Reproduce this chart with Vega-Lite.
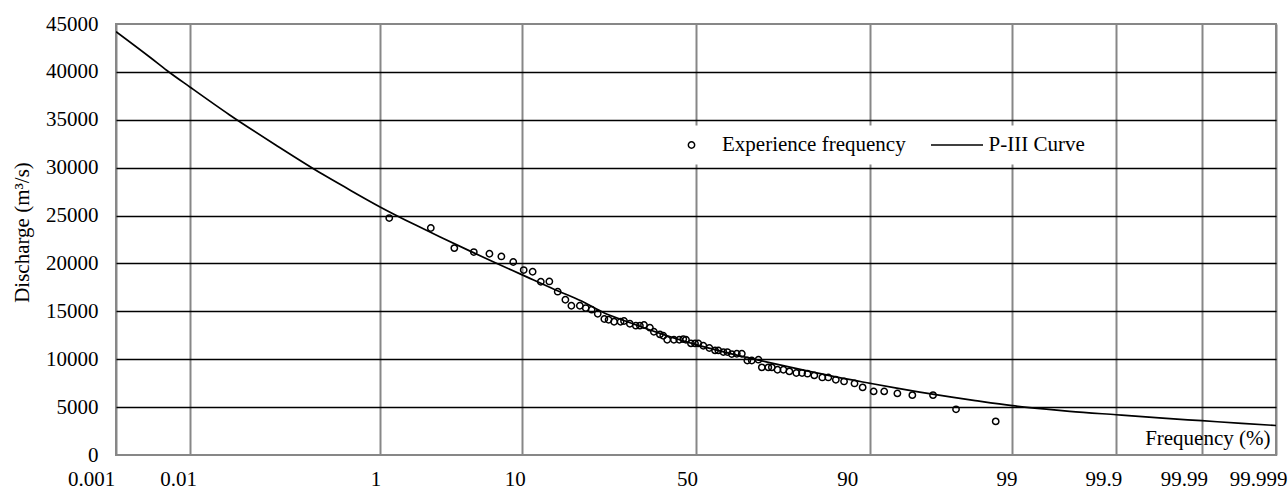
{
  "$schema": "https://vega.github.io/schema/vega-lite/v6.json",
  "width": 1160,
  "height": 431,
  "autosize": "none",
  "padding": {"left": 116, "top": 24, "right": 12, "bottom": 36},
  "background": "white",
  "config": {
    "font": "Liberation Serif",
    "view": {"stroke": "#878787", "strokeWidth": 2}
  },
  "datasets": {
    "obs": [
      {"p": 1.26, "q": 24740}, {"p": 2.60, "q": 23700}, {"p": 3.88, "q": 21600}, {"p": 5.13, "q": 21190},
      {"p": 6.49, "q": 21010}, {"p": 7.69, "q": 20730}, {"p": 9.04, "q": 20150}, {"p": 10.30, "q": 19310},
      {"p": 11.64, "q": 19130}, {"p": 12.87, "q": 18090}, {"p": 14.15, "q": 18120}, {"p": 15.51, "q": 17050},
      {"p": 16.96, "q": 16210}, {"p": 18.09, "q": 15580}, {"p": 19.69, "q": 15580}, {"p": 20.93, "q": 15340},
      {"p": 22.22, "q": 15170}, {"p": 23.56, "q": 14750}, {"p": 25.01, "q": 14200}, {"p": 26.05, "q": 14120},
      {"p": 27.40, "q": 13910}, {"p": 28.99, "q": 13910}, {"p": 29.83, "q": 13990}, {"p": 31.37, "q": 13700},
      {"p": 32.95, "q": 13500}, {"p": 34.02, "q": 13500}, {"p": 35.11, "q": 13570}, {"p": 36.76, "q": 13290},
      {"p": 37.87, "q": 12870}, {"p": 39.56, "q": 12590}, {"p": 40.50, "q": 12450}, {"p": 41.64, "q": 12030},
      {"p": 43.57, "q": 12030}, {"p": 45.11, "q": 12030}, {"p": 46.28, "q": 12100}, {"p": 47.07, "q": 12030},
      {"p": 48.53, "q": 11650}, {"p": 49.71, "q": 11650}, {"p": 50.67, "q": 11650}, {"p": 52.14, "q": 11410},
      {"p": 53.90, "q": 11170}, {"p": 55.56, "q": 10920}, {"p": 56.51, "q": 10920}, {"p": 57.95, "q": 10750},
      {"p": 59.10, "q": 10750}, {"p": 60.35, "q": 10540}, {"p": 61.76, "q": 10570}, {"p": 63.16, "q": 10570},
      {"p": 64.70, "q": 9870}, {"p": 65.89, "q": 9870}, {"p": 67.66, "q": 9950}, {"p": 68.55, "q": 9150},
      {"p": 70.25, "q": 9150}, {"p": 71.11, "q": 9150}, {"p": 72.50, "q": 8900}, {"p": 73.95, "q": 8900},
      {"p": 75.37, "q": 8730}, {"p": 76.89, "q": 8560}, {"p": 78.15, "q": 8560}, {"p": 79.34, "q": 8490},
      {"p": 80.72, "q": 8310}, {"p": 82.23, "q": 8100}, {"p": 83.36, "q": 8100}, {"p": 84.78, "q": 7860},
      {"p": 86.06, "q": 7680}, {"p": 87.63, "q": 7470}, {"p": 88.85, "q": 7060}, {"p": 90.38, "q": 6640},
      {"p": 91.58, "q": 6640}, {"p": 93.06, "q": 6430}, {"p": 94.36, "q": 6250}, {"p": 95.83, "q": 6250},
      {"p": 97.18, "q": 4770}, {"p": 98.55, "q": 3510}
    ],
    "curve": [
      {"p": 0.001, "q": 44200}, {"p": 0.003, "q": 41500}, {"p": 0.005, "q": 40150}, {"p": 0.01, "q": 38400},
      {"p": 0.03, "q": 35530}, {"p": 0.1, "q": 32370}, {"p": 0.3, "q": 29330}, {"p": 0.5, "q": 27920},
      {"p": 1, "q": 25930}, {"p": 2, "q": 23950}, {"p": 3, "q": 22760}, {"p": 5, "q": 21180},
      {"p": 7, "q": 20070}, {"p": 10, "q": 18830}, {"p": 15, "q": 17260}, {"p": 20, "q": 16070},
      {"p": 25, "q": 14830}, {"p": 30, "q": 14010}, {"p": 35, "q": 13290}, {"p": 40, "q": 12650},
      {"p": 45, "q": 12060}, {"p": 50, "q": 11530}, {"p": 55, "q": 11050}, {"p": 60, "q": 10590},
      {"p": 65, "q": 10140}, {"p": 70, "q": 9690}, {"p": 75, "q": 9220}, {"p": 80, "q": 8710},
      {"p": 85, "q": 8130}, {"p": 90, "q": 7480}, {"p": 93, "q": 6980}, {"p": 95, "q": 6570},
      {"p": 97, "q": 6040}, {"p": 98, "q": 5680}, {"p": 99, "q": 5150}, {"p": 99.5, "q": 4780},
      {"p": 99.7, "q": 4560}, {"p": 99.9, "q": 4200}, {"p": 99.97, "q": 3850}, {"p": 99.99, "q": 3580},
      {"p": 99.997, "q": 3300}, {"p": 99.999, "q": 3080}
    ]
  },
  "encoding": {
    "x": {
      "field": "p",
      "type": "quantitative",
      "scale": {
        "type": "linear",
        "zero": false,
        "nice": false,
        "domain": [0.001, 0.003, 0.005, 0.01, 0.03, 0.1, 0.3, 0.5, 1, 2, 3, 5, 7, 10, 15, 20, 25, 30, 35, 40, 45, 50, 55, 60, 65, 70, 75, 80, 85, 90, 93, 95, 97, 98, 99, 99.5, 99.7, 99.9, 99.97, 99.99, 99.997, 99.999],
        "range": [0, 34.3, 50.9, 74.2, 113.3, 159.7, 206.3, 229.7, 263.6, 300.7, 324.2, 356.3, 379.3, 405.7, 439.0, 465.5, 488.3, 508.7, 527.6, 545.5, 562.9, 580, 597.1, 614.5, 632.4, 651.3, 671.7, 694.5, 721.0, 754.3, 780.7, 803.7, 835.8, 859.3, 896.4, 930.3, 953.7, 1000.3, 1046.7, 1085.8, 1125.7, 1160]
      },
      "axis": {
        "values": [0.001, 0.01, 1, 10, 50, 90, 99, 99.9, 99.99, 99.999],
        "labelExpr": "'' + datum.value",
        "title": "Frequency (%)",
        "titleFont": "Liberation Serif",
        "titleFontSize": 21,
        "titleFontWeight": "normal",
        "titleColor": "black",
        "titleX": 1154,
        "titleY": -17,
        "titleAlign": "right",
        "titleBaseline": "middle",
        "titleAngle": 0,
        "domain": false,
        "ticks": false,
        "tickSize": 0,
        "grid": true,
        "gridColor": "#878787",
        "gridWidth": 2,
        "labelFont": "Liberation Serif",
        "labelFontSize": 21,
        "labelColor": "black",
        "labelAlign": "center",
        "labelBaseline": "top",
        "labelPadding": 13,
        "labelFlush": false,
        "labelBound": false,
        "labelOverlap": false,
        "labelOffset": {
          "condition": [
            {"test": "datum.value === 0.001", "value": -25},
            {"test": "datum.value === 0.01", "value": -12},
            {"test": "datum.value === 1", "value": -4},
            {"test": "datum.value === 10", "value": -7},
            {"test": "datum.value === 50", "value": -9},
            {"test": "datum.value === 90", "value": -23},
            {"test": "datum.value === 99", "value": -6},
            {"test": "datum.value === 99.9", "value": -13},
            {"test": "datum.value === 99.99", "value": -18},
            {"test": "datum.value === 99.999", "value": -18}
          ],
          "value": 0
        }
      }
    },
    "y": {
      "field": "q",
      "type": "quantitative",
      "scale": {"domain": [0, 45000], "nice": false, "zero": true},
      "axis": {
        "values": [0, 5000, 10000, 15000, 20000, 25000, 30000, 35000, 40000, 45000],
        "format": "d",
        "title": "Discharge (m³/s)",
        "titleFont": "Liberation Serif",
        "titleFontSize": 21,
        "titleFontWeight": "normal",
        "titleColor": "black",
        "titleX": -94,
        "titleY": 208,
        "titleAngle": -90,
        "titleAlign": "center",
        "titleBaseline": "middle",
        "domain": false,
        "ticks": false,
        "tickSize": 0,
        "grid": true,
        "gridColor": "black",
        "gridWidth": 1.6,
        "gridOpacity": {"condition": {"test": "datum.value === 0 || datum.value === 45000", "value": 0}, "value": 1},
        "labelFont": "Liberation Serif",
        "labelFontSize": 21,
        "labelColor": "black",
        "labelPadding": 18,
        "labelFlush": false,
        "labelBound": false
      }
    }
  },
  "layer": [
    {
      "data": {"name": "curve"},
      "mark": {"type": "line", "strokeWidth": 1.7, "interpolate": "monotone", "clip": true},
      "encoding": {
        "color": {
          "datum": "P-III Curve",
          "scale": {"range": ["#000000"]},
          "legend": {
            "title": null,
            "orient": "none",
            "legendX": 805,
            "legendY": 101.5,
            "direction": "horizontal",
            "fillColor": "white",
            "padding": 9,
            "clipHeight": 21,
            "symbolType": "stroke",
            "symbolSize": 2704,
            "symbolStrokeWidth": 1.7,
            "symbolStrokeColor": "black",
            "labelOffset": 4.5,
            "labelLimit": 400,
            "labelFont": "Liberation Serif",
            "labelFontSize": 21,
            "labelColor": "black"
          }
        }
      }
    },
    {
      "data": {"name": "obs"},
      "mark": {"type": "point", "filled": false, "size": 40, "strokeWidth": 1.5, "color": "black", "opacity": 1},
      "encoding": {
        "shape": {
          "datum": "Experience frequency",
          "scale": {"range": ["circle"]},
          "legend": {
            "title": null,
            "orient": "none",
            "legendX": 556,
            "legendY": 101.5,
            "direction": "horizontal",
            "fillColor": "white",
            "padding": 9,
            "clipHeight": 21,
            "symbolSize": 40,
            "symbolStrokeWidth": 1.5,
            "symbolStrokeColor": "black",
            "symbolFillColor": "transparent",
            "labelOffset": 20,
            "labelLimit": 400,
            "labelFont": "Liberation Serif",
            "labelFontSize": 21,
            "labelColor": "black"
          }
        }
      }
    }
  ]
}
